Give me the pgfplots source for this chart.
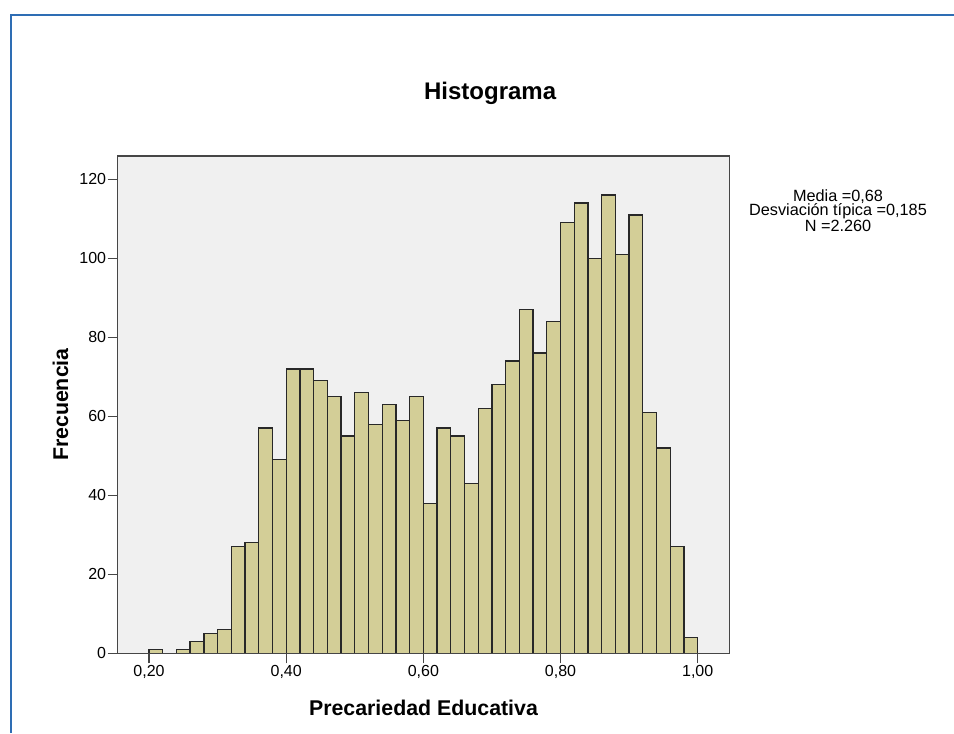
\documentclass[border=0pt]{standalone}
\usepackage{fontspec}
\setmainfont{Liberation Sans}
\usepackage{pgfplots}
\pgfplotsset{compat=1.18}
\definecolor{barfill}{RGB}{211,206,151}
\definecolor{baredge}{RGB}{40,40,40}
\definecolor{plotbg}{RGB}{240,240,240}
\definecolor{axisgray}{RGB}{70,70,70}
\definecolor{frameblue}{RGB}{46,109,180}
\begin{document}
\begin{tikzpicture}
\path[use as bounding box] (0,0) rectangle (715.5pt,549.75pt);
\draw[frameblue, line width=1.5pt] (8pt,0) -- (8pt,538.5pt) -- (715.5pt,538.5pt);
\begin{axis}[
  at={(88.28pt,59.78pt)}, anchor=south west,
  scale only axis, width=458.7pt, height=372.98pt,
  xmin=0.15437, xmax=1.0461, ymin=0, ymax=125.9,
  axis background/.style={fill=plotbg},
  axis line style={axisgray, line width=0.9pt},
  tick style={axisgray, line width=0.9pt},
  tick align=outside, tick pos=left, major tick length=7.5pt,
  xtick={0.2,0.4,0.6,0.8,1.0},
  xticklabels={{0,20},{0,40},{0,60},{0,80},{1,00}},
  ytick={0,20,40,60,80,100,120},
  /pgf/number format/assume math mode=true,
  ticklabel style={font=\fontsize{12}{14}\selectfont},
  xticklabel style={inner ysep=1.5pt},
  yticklabel style={inner xsep=1pt},
  xlabel={Precariedad Educativa},
  ylabel={Frecuencia},
  xlabel style={font=\fontsize{16}{18}\selectfont\bfseries, at={(axis description cs:0.5,-0.1255)}, anchor=base},
  ylabel style={font=\fontsize{16}{18}\selectfont\bfseries, at={(axis description cs:-0.0935,0.5)}, anchor=center},
  title={Histograma},
  title style={font=\fontsize{18}{20}\selectfont\bfseries, at={(axis description cs:0.609,1.0975)}, anchor=base},
  axis on top,
]
\addplot[ybar interval, fill=barfill, draw=baredge, line width=1pt] coordinates {
(0.20,1) (0.22,0) (0.24,1) (0.26,3) (0.28,5) (0.30,6) (0.32,27) (0.34,28) (0.36,57) (0.38,49)
(0.40,72) (0.42,72) (0.44,69) (0.46,65) (0.48,55) (0.50,66) (0.52,58) (0.54,63) (0.56,59) (0.58,65)
(0.60,38) (0.62,57) (0.64,55) (0.66,43) (0.68,62) (0.70,68) (0.72,74) (0.74,87) (0.76,76) (0.78,84)
(0.80,109) (0.82,114) (0.84,100) (0.86,116) (0.88,101) (0.90,111) (0.92,61) (0.94,52) (0.96,27) (0.98,4)
(1.00,4)
};
\end{axis}
\node[anchor=north, align=center, inner sep=0pt, font=\fontsize{12.2}{10.9}\selectfont] at (628.5pt,408pt) {Media =0,68\\Desviación típica =0,185\\N =2.260};
\end{tikzpicture}
\end{document}
